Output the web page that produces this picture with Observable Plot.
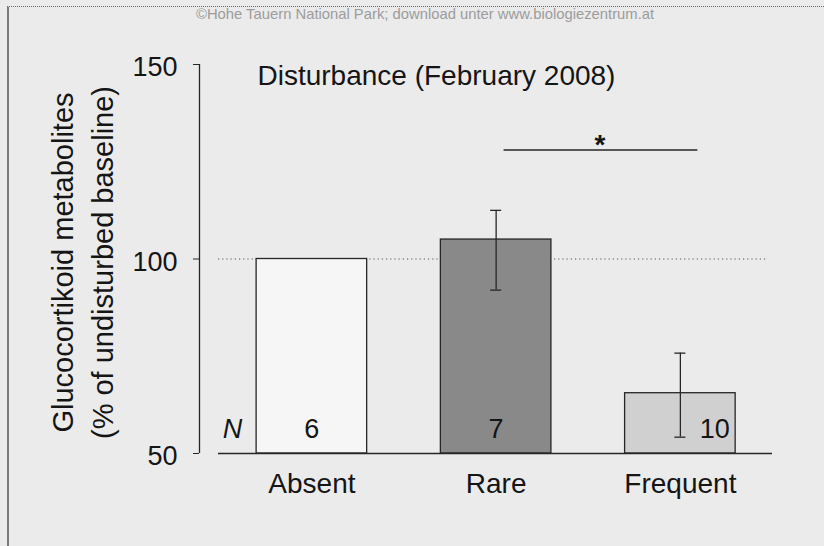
<!DOCTYPE html>
<html><head><meta charset="utf-8">
<script src="https://cdn.jsdelivr.net/npm/d3@7"></script>
<script src="https://cdn.jsdelivr.net/npm/@observablehq/plot@0.6"></script>
<style>
html,body{margin:0;padding:0;background:#ebebeb;}
#wrap{position:relative;width:824px;height:546px;overflow:hidden;background:#ebebeb;font-family:"Liberation Sans",Arial,sans-serif;}
#border{position:absolute;left:7px;top:6px;right:-4px;bottom:-4px;border-top:1px dotted #6b6b6b;border-left:2px solid #7a7a7a;}
#wm{position:absolute;left:196px;top:6px;font-size:14.8px;line-height:16px;color:#9c9c9c;white-space:nowrap;}
#chart{position:absolute;left:0;top:0;}
</style></head><body>
<div id="wrap"><div id="border"></div><div id="wm">©Hohe Tauern National Park; download unter www.biologiezentrum.at</div><div id="chart"></div></div>
<script>
const categories = ["Absent", "Rare", "Frequent"];
const means = [100, 105, 65.5];
const errLow = [null, 92, 54.2];
const errHigh = [null, 112.5, 75.8];
const sampleSizes = [6, 7, 10];
const yTicks = [50, 100, 150];
const title = "Disturbance (February 2008)";
const yLabel = "Glucocortikoid metabolites\n(% of undisturbed baseline)";
const sigLabel = "*";

const rows = categories.map((c, i) => ({cat: c, i, mean: means[i], lo: errLow[i], hi: errHigh[i], n: sampleSizes[i]}));
const errRows = rows.filter(d => d.lo != null);
const half = 0.3, cap = 0.03;
const ink = "#262626";
const font = "'Liberation Sans', Arial, sans-serif";

const plot = Plot.plot({
  width: 824, height: 546,
  marginTop: 64, marginBottom: 93, marginLeft: 199, marginRight: 52,
  style: {background: "transparent", fontFamily: font, color: "#151515", overflow: "visible"},
  x: {type: "linear", domain: [-0.61, 2.5], axis: null},
  y: {domain: [50, 150], axis: null},
  color: {type: "ordinal", domain: categories, range: ["#f6f6f6", "#898989", "#d0d0d0"]},
  marks: [
    Plot.ruleY([100], {x1: -0.507, x2: 2.474, stroke: "#555", strokeWidth: 1, strokeDasharray: "1.2,3"}),
    Plot.rect(rows, {x1: d => d.i - half, x2: d => d.i + half, y1: 50, y2: "mean", fill: "cat", stroke: ink, strokeWidth: 1.3}),
    Plot.ruleY([50], {x1: -0.507, x2: 2.5, stroke: ink, strokeWidth: 1.4}),
    Plot.ruleX([-0.61], {y1: 50, y2: 150, stroke: ink, strokeWidth: 1.3}),
    Plot.axisY({ticks: yTicks, tickSize: 6, tickFormat: () => "", stroke: ink, label: null}),
    Plot.axisY({ticks: yTicks, tickSize: 0, tickPadding: 22, fontSize: 27, dy: 3, label: null}),
    Plot.axisX({ticks: [0, 1, 2], tickFormat: i => categories[i], tickSize: 0, tickPadding: 20, fontSize: 28, label: null}),
    Plot.ruleX(errRows, {x: "i", y1: "lo", y2: "hi", stroke: ink, strokeWidth: 1.3}),
    Plot.ruleY(errRows, {y: "lo", x1: d => d.i - cap, x2: d => d.i + cap, stroke: ink, strokeWidth: 1.3}),
    Plot.ruleY(errRows, {y: "hi", x1: d => d.i - cap, x2: d => d.i + cap, stroke: ink, strokeWidth: 1.3}),
    Plot.text(rows, {x: d => d.i + (d.cat === "Frequent" ? 0.187 : 0), y: 50, text: "n", dy: -24.5, fontSize: 27, fill: "#151515"}),
    Plot.text(["N"], {x: 0, y: 50, dx: -79.5, dy: -24.5, fontSize: 27, fontStyle: "italic", fill: "#151515"}),
    Plot.ruleY([128], {x1: 1.043, x2: 2.095, stroke: ink, strokeWidth: 1.5}),
    Plot.text([sigLabel], {x: 1.564, y: 128, dy: -5, fontSize: 28, fontWeight: "bold", fill: "#151515"}),
    Plot.text([title], {frameAnchor: "top-left", textAnchor: "start", lineAnchor: "top", dx: 58, dy: 1, fontSize: 28, fill: "#151515"}),
    Plot.text([yLabel], {frameAnchor: "left", rotate: -90, textAnchor: "middle", lineAnchor: "middle", lineHeight: 1.35, dx: -119, dy: 3.5, fontSize: 29, fill: "#151515"})
  ]
});
document.getElementById("chart").appendChild(plot);
</script>
</body></html>
